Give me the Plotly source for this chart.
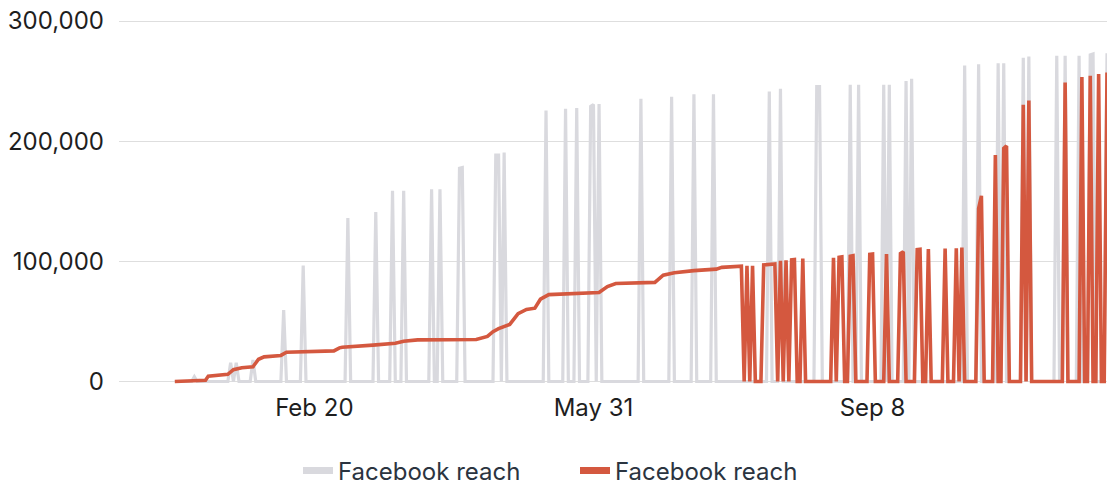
import datetime as dt
import plotly.graph_objects as go

# ---------------- data ----------------
start_date = dt.date(2023, 1, 1)
n_days = 335  # Jan 1 .. Dec 1

# light grey series: days (offset from Jan 1) with non-zero reach, all other days are 0
gray_spike_days = [7, 20, 22, 28, 39, 46, 62, 72, 78, 82, 92, 95, 102, 103,
                   115, 116, 118, 133, 140, 144, 149, 150, 152, 167, 178, 186,
                   193, 213, 217, 230, 231, 242, 245, 254, 256, 262, 264, 283,
                   288, 295, 297, 304, 306, 316, 319, 324, 328, 329, 334]
gray_spike_values = [4000, 15600, 15600, 18000, 59500, 96400, 136000, 141000,
                     158700, 158800, 160000, 160000, 177500, 178000,
                     188500, 188500, 190500, 225500, 226900, 227500, 229000,
                     230500, 231000, 235200, 237000, 239000, 239000, 241300,
                     243500, 245500, 245500, 246900, 246900, 246900, 246900,
                     250000, 252000, 263000, 264000, 264900, 264900, 269500,
                     270400, 271000, 271000, 271000, 271800, 272600, 273200]

# red series, first part: readings of the rising curve (day offset, value)
red_ramp_days = [0, 6, 11, 12, 19, 21, 24, 28, 30, 32, 38, 40, 47, 57, 59, 60,
                 71, 79, 82, 87, 108, 112, 114, 116, 120, 123, 126, 129, 131,
                 134, 152, 155, 158, 172, 175, 179, 186, 194, 196, 202, 203]
red_ramp_values = [0, 500, 1000, 4500, 6000, 9800, 11500, 12300, 18500, 20500,
                   21700, 24300, 24500, 25500, 28000, 28500, 30300, 31800,
                   33500, 34600, 35000, 37500, 41500, 44000, 47500, 56500,
                   60000, 61000, 68500, 72300, 74000, 79000, 81500, 82500,
                   88500, 90500, 92300, 93500, 95000, 95800, 96000]

# red series, second part: days with non-zero reach, all other days are 0
red_spike_days = [205, 207, 211, 212, 213, 214, 215, 217, 219, 221, 222, 225,
                  236, 238, 239, 242, 243, 249, 250, 255, 260, 261, 266, 267,
                  270, 276, 280, 282, 288, 289, 294, 297, 298, 304, 306, 319,
                  325, 328, 331, 334]
red_spike_values = [96200, 96200, 97000, 97300, 97500, 97700, 97900, 100500,
                    100800, 101200, 101500, 102300, 103000, 103400, 103700,
                    104300, 104700, 105800, 106100, 106100, 106500, 108000,
                    109800, 110000, 110300, 110600, 110900, 111400, 144000,
                    154500, 188500, 194000, 196000, 230200, 233800, 248800,
                    253300, 254400, 255800, 257100]

tick_dates = ["2023-02-20", "2023-05-31", "2023-09-08"]
tick_labels = ["Feb 20", "May 31", "Sep 8"]
y_ticks = [0, 100000, 200000, 300000]
y_tick_labels = ["0", "100,000", "200,000", "300,000"]
series_name = "Facebook reach"

# ---------------- build series ----------------
def day(d):
    return start_date + dt.timedelta(days=d)

gray_map = dict(zip(gray_spike_days, gray_spike_values))
gray_x = [day(d) for d in range(n_days)]
gray_y = [gray_map.get(d, 0) for d in range(n_days)]

red_map = dict(zip(red_spike_days, red_spike_values))
tail_days = list(range(red_ramp_days[-1] + 1, n_days))
red_x = [day(d) for d in red_ramp_days] + [day(d) for d in tail_days]
red_y = list(red_ramp_values) + [red_map.get(d, 0) for d in tail_days]

GRAY = "#d9d9de"
RED = "#d4583f"
FONT = "Inter"

fig = go.Figure()
fig.add_trace(go.Scatter(x=gray_x, y=gray_y, mode="lines", name=series_name,
                         line=dict(color=GRAY, width=3.2), showlegend=False,
                         hoverinfo="skip"))
fig.add_trace(go.Scatter(x=red_x, y=red_y, mode="lines", name=series_name,
                         line=dict(color=RED, width=3.6), showlegend=False,
                         hoverinfo="skip"))
# legend entries (thicker swatches)
fig.add_trace(go.Scatter(x=[None], y=[None], mode="lines", name=series_name,
                         line=dict(color=GRAY, width=7)))
fig.add_trace(go.Scatter(x=[None], y=[None], mode="lines", name=series_name,
                         line=dict(color=RED, width=7)))

fig.update_layout(
    width=1107, height=485,
    margin=dict(l=119, r=0, t=14, b=97),
    paper_bgcolor="white", plot_bgcolor="white",
    font=dict(family=FONT, size=24, color="#1e1e1e"),
    showlegend=True,
    legend=dict(orientation="h", xref="container", yref="container",
                x=298 / 1107, xanchor="left", y=1 - 471 / 485, yanchor="middle",
                font=dict(family=FONT, size=24, color="#2b3440"),
                entrywidth=232, entrywidthmode="pixels",
                bgcolor="rgba(0,0,0,0)"),
    xaxis=dict(type="date", range=["2022-12-12", "2023-12-01"],
               tickvals=tick_dates, ticktext=tick_labels,
               showgrid=False, zeroline=False, showline=False,
               ticks="", ticklabelstandoff=3,
               tickfont=dict(family=FONT, size=24, color="#1e1e1e")),
    yaxis=dict(range=[-5409, 305825], tickvals=y_ticks, ticktext=y_tick_labels,
               showgrid=True, gridcolor="#dedede", gridwidth=1.3,
               zeroline=False, showline=False, ticks="",
               ticklabelstandoff=14,
               tickfont=dict(family=FONT, size=24, color="#1e1e1e")),
)

fig.write_html("out.html", config={"displayModeBar": False},
               post_script="document.body.style.margin='0';")
